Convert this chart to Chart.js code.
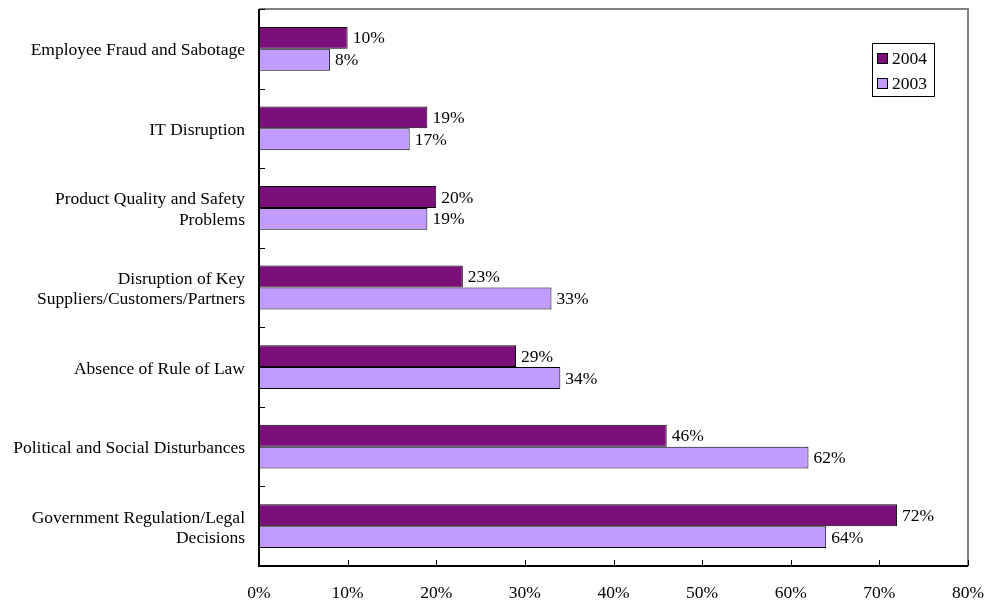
<!DOCTYPE html>
<html>
<head>
<meta charset="utf-8">
<script src="https://cdn.jsdelivr.net/npm/chart.js@4"></script>
<style>
  body { margin: 0; background: #fff; }
  #wrap { width: 987px; height: 603px; }
</style>
</head>
<body>
<div id="wrap"><canvas id="chart" width="987" height="603"></canvas></div>
<script>
const categories = [
  ['Employee Fraud and Sabotage'],
  ['IT Disruption'],
  ['Product Quality and Safety', 'Problems'],
  ['Disruption of Key', 'Suppliers/Customers/Partners'],
  ['Absence of Rule of Law'],
  ['Political and Social Disturbances'],
  ['Government Regulation/Legal', 'Decisions']
];
const values2004 = [10, 19, 20, 23, 29, 46, 72];
const values2003 = [8, 17, 19, 33, 34, 62, 64];
const xTicks = [0, 10, 20, 30, 40, 50, 60, 70, 80];

const FONT = '"Liberation Serif", "DejaVu Serif", serif';
const SIZE = 17.5;

// bar value labels, legend box, frame and inward tick marks
const decorations = {
  id: 'decorations',
  afterDatasetsDraw(chart) {
    const ctx = chart.ctx;
    ctx.save();
    ctx.font = SIZE + 'px ' + FONT;
    ctx.fillStyle = '#000';
    ctx.textBaseline = 'middle';
    ctx.textAlign = 'left';
    chart.data.datasets.forEach((ds, i) => {
      chart.getDatasetMeta(i).data.forEach((bar, j) => {
        ctx.fillText(ds.data[j] + '%', bar.x + 5, bar.y + 1);
      });
    });
    ctx.restore();
  },
  afterDraw(chart) {
    const ctx = chart.ctx;
    const a = chart.chartArea;
    const x = chart.scales.x;
    ctx.save();
    // gray top/right frame
    ctx.strokeStyle = '#808080';
    ctx.lineWidth = 2;
    ctx.beginPath();
    ctx.moveTo(a.left, a.top);
    ctx.lineTo(a.right, a.top);
    ctx.lineTo(a.right, a.bottom);
    ctx.stroke();
    // black axes
    ctx.strokeStyle = '#000';
    ctx.lineWidth = 2;
    ctx.beginPath();
    ctx.moveTo(a.left, a.top);
    ctx.lineTo(a.left, a.bottom);
    ctx.lineTo(a.right, a.bottom);
    ctx.stroke();
    ctx.lineWidth = 1;
    ctx.beginPath();
    xTicks.forEach(t => {
      const px = Math.round(x.getPixelForValue(t)) + 0.5;
      ctx.moveTo(px, a.bottom);
      ctx.lineTo(px, a.bottom - 6);
    });
    for (let i = 0; i <= categories.length; i++) {
      const py = Math.round(a.top + (a.bottom - a.top) * i / categories.length) + 0.5;
      ctx.moveTo(a.left, py);
      ctx.lineTo(a.left + 6, py);
    }
    ctx.stroke();

    // legend
    const lx = 872, ly = 43, lw = 62, lh = 53;
    ctx.fillStyle = '#fff';
    ctx.fillRect(lx, ly, lw, lh);
    ctx.strokeStyle = '#000';
    ctx.strokeRect(lx + 0.5, ly + 0.5, lw, lh);
    ctx.font = SIZE + 'px ' + FONT;
    ctx.textBaseline = 'middle';
    ctx.textAlign = 'left';
    chart.data.datasets.forEach((ds, i) => {
      const cy = ly + 15 + i * 25;
      ctx.fillStyle = ds.backgroundColor;
      ctx.fillRect(lx + 5, cy - 5, 11, 11);
      ctx.strokeStyle = '#000';
      ctx.strokeRect(lx + 5.5, cy - 4.5, 10, 10);
      ctx.fillStyle = '#000';
      ctx.fillText(ds.label, lx + 20, cy + 1);
    });
    ctx.restore();
  }
};

new Chart(document.getElementById('chart'), {
  type: 'bar',
  data: {
    labels: categories,
    datasets: [
      {
        label: '2004',
        data: values2004,
        backgroundColor: '#7B107A',
        borderColor: '#000',
        borderWidth: 1,
        borderSkipped: 'left'
      },
      {
        label: '2003',
        data: values2003,
        backgroundColor: '#C19BFF',
        borderColor: '#000',
        borderWidth: 1,
        borderSkipped: 'left'
      }
    ]
  },
  options: {
    indexAxis: 'y',
    responsive: false,
    animation: false,
    categoryPercentage: 0.55,
    barPercentage: 1,
    layout: { padding: { top: 9, right: 19, left: 0, bottom: 0 } },
    plugins: {
      legend: { display: false },
      tooltip: { enabled: false }
    },
    scales: {
      x: {
        min: 0,
        max: 80,
        afterBuildTicks(scale) {
          scale.ticks = xTicks.map(v => ({ value: v }));
        },
        afterFit(scale) {
          scale.height = 37;
          scale.paddingLeft = 0;
          scale.paddingRight = 0;
        },
        grid: { display: false, drawTicks: false },
        border: { display: false },
        ticks: {
          padding: 17,
          color: '#000',
          font: { family: FONT, size: SIZE },
          maxRotation: 0,
          callback: v => v + '%'
        }
      },
      y: {
        afterFit(scale) {
          scale.width = 259;
          scale.paddingTop = 0;
          scale.paddingBottom = 0;
        },
        grid: { display: false, drawTicks: false },
        border: { display: false },
        ticks: {
          padding: 14,
          labelOffset: 2,
          color: '#000',
          font: { family: FONT, size: SIZE, lineHeight: 1.15 },
          autoSkip: false
        }
      }
    }
  },
  plugins: [decorations]
});
</script>
</body>
</html>
